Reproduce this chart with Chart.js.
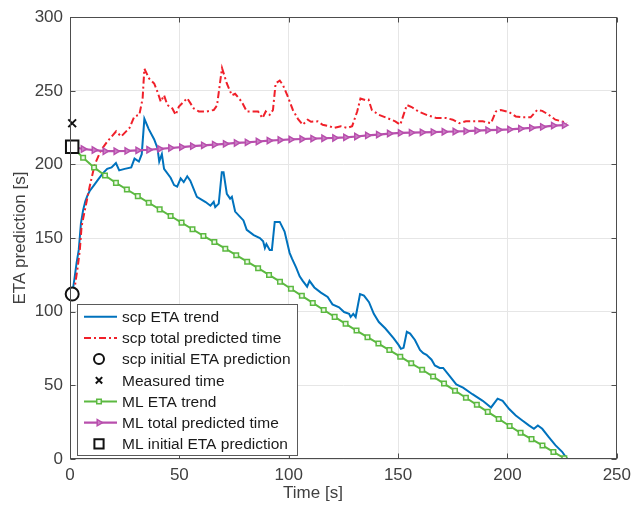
<!DOCTYPE html>
<html>
<head>
<meta charset="utf-8">
<script src="https://cdn.jsdelivr.net/npm/chart.js@4.4.1/dist/chart.umd.min.js"></script>
<style>
  html, body { margin: 0; padding: 0; background: #fff; }
  #wrap { width: 637px; height: 511px; }
</style>
</head>
<body>
<div id="wrap"><canvas id="etaChart" width="637" height="511"></canvas></div>
<script>
// scp ETA trend (blue)
const scpTrendTime = [1,2,3,4,5,6,7,8,9,11,13,15,17,19,21,22.5,25,28,29.5,31.5,32.8,34,36,38.5,40,40.8,42,43,46,47.6,49,50.6,52,53.6,55,58,62,64.2,65.7,66.4,68,69.4,70.2,71.7,73.2,74,75.5,79.3,80.8,84,86.8,88.3,89.1,89.8,91.3,92.3,93.6,95.9,98.1,100.4,101.5,103.4,105,106.4,108.4,109.5,111.7,114.7,117.8,120,123,125.3,127.6,128.3,129.5,130.6,132.6,134.4,136.7,138.9,141.2,144.2,148,150.2,151.3,152.5,154,155.5,157.7,160,161.5,163,165.3,166.8,169,170.6,173.6,176.6,179.7,184,188.7,192.5,195.5,197.8,200.8,203.8,206.8,209.8,212.1,213.9,215.9,218.9,221.9,225,226.8,227.5];
const scpTrendEta = [112,122,133,142,160,169,175,179,182,186,190,194,197,198,201,196,197,198,204,202,207,231,224,217,211,202,207,197,191,186,185,190.5,188,192,189,178,174.5,172,174.6,171,173.4,194.7,194.7,180,176.8,178,168,162,155.6,152,150,147.8,143.3,146,142,142,161,161,154.5,140,136,130,124,121,117,121,116.5,113,110,105,103,99.8,98.6,96.4,98.5,96.4,112,111,106.5,98.6,93,88.6,81.9,77.5,74.8,75.5,86.4,85.2,80.8,74.1,71.9,70.7,67.4,63.5,61.8,61.8,56.2,50.7,48.4,44,39.5,35,41,39.5,33.9,29.5,26.1,22.8,20.5,22.8,20.5,14.9,9.4,4.9,1.1,0];

// scp total predicted time (red)
const scpTotalTime = [1,2.3,3.5,4.5,5.3,6.8,9,11.3,14.3,17.3,21.1,23.4,27.2,29.4,31.7,33.2,34,36.2,38.5,40,41.5,43,44.5,46.8,48.3,49.8,53.6,56.6,58.9,62.6,65.7,67.2,69.5,71.7,74,75.5,78.5,80.8,83,86,88,89.5,91.3,92.8,94,95.9,97.4,99.6,101.9,104.2,106.4,108.7,110.2,113.2,115.5,118.5,120.8,123.8,126.8,129,131.3,132.8,135,136.5,138,141.2,145,148.7,151,154,156.2,159.3,163,167.6,172,175,178,181,185.7,188.7,192.5,194.7,197,200.8,203.8,206.8,210.6,213.6,215.9,218.9,221.9,224.9,227.2];
const scpTotal = [112,118,130,142,158,169,185,200,210,216,222.5,219,224.8,232.6,233.7,244.8,265,258.3,255,249.3,242.6,247,240.4,238,233.7,239.3,245,238,236,236,237,240,265.5,255,247,248,242.6,236,236,236,231.5,236,233.7,237,255,257,253.8,246,237,231,227,230.4,229,229.3,227,226,224.8,226,224.8,226,236,244.8,243.7,244,237,233.7,231.5,229.3,227,240.4,239,236,233.7,231.5,231.5,230.4,228,229.3,229.3,229.3,228,236,237,235.5,232.6,232,232,237,236.4,233.7,230.4,229.3,228];

// ML series (green / magenta)
const mlTime = [1,6,11,16,21,26,31,36,41,46,51,56,61,66,71,76,81,86,91,96,101,106,111,116,121,126,131,136,141,146,151,156,161,166,171,176,181,186,191,196,201,206,211,216,221,226];
const mlEta = [212,204.5,198,192.5,187.5,183,178.5,174,169.5,165,160.5,156,151.5,147.3,142.8,138.4,134,129.6,125,120.4,115.6,110.8,106,101.2,96.5,91.8,87.2,82.7,78.4,74,69.5,65,60.6,56,51.2,46.4,41.6,36.8,32,27.2,22.4,17.8,13.5,9.2,4.8,0.5];
const mlTotal = [212,210.5,209.8,209,209,209.2,209.6,210,210.6,211.2,211.8,212.4,213,213.5,214,214.6,215,215.6,216.2,216.6,217,217.3,217.6,217.8,218,218.4,219,219.7,220.3,221,221.4,221.6,221.8,222,222.2,222.4,222.6,223,223.3,223.5,223.8,224.3,224.8,225.5,226.4,226.7];

// single points
const scpInitial = [1, 112];
const measured = [1, 228];
const mlInitial = [1, 212];

const xTicks = [0, 50, 100, 150, 200, 250];
const yTicks = [0, 50, 100, 150, 200, 250, 300];

const FONT = "'Liberation Sans', Arial, Helvetica, sans-serif";
const pts = (xs, ys) => xs.map((x, i) => ({ x: x, y: ys[i] }));

const BLUE = '#0072bd', RED = '#f0202a', GREEN = '#5cb941', MAGENTA = '#b84fad';

const datasets = [
  { label: 'scp ETA trend', data: pts(scpTrendTime, scpTrendEta), borderColor: BLUE, borderWidth: 2,
    pointRadius: 0, order: 5 },
  { label: 'scp total predicted time', data: pts(scpTotalTime, scpTotal), borderColor: RED, borderWidth: 2,
    borderDash: [7, 3, 2, 3], pointRadius: 0, order: 4 },
  { label: 'scp initial ETA prediction', data: [{ x: scpInitial[0], y: scpInitial[1] }], showLine: false, clip: false,
    pointStyle: 'circle', pointRadius: 6.5, borderColor: '#111', backgroundColor: '#fff', borderWidth: 2, order: 0 },
  { label: 'Measured time', data: [{ x: measured[0], y: measured[1] }], showLine: false, clip: false,
    pointStyle: 'crossRot', pointRadius: 5.5, borderColor: '#111', borderWidth: 2, order: 0 },
  { label: 'ML ETA trend', data: pts(mlTime, mlEta), borderColor: GREEN, borderWidth: 2,
    pointStyle: 'rect', pointRadius: 3.2, pointBorderWidth: 1.5, pointBackgroundColor: '#eef8e8', pointBorderColor: GREEN, order: 2 },
  { label: 'ML total predicted time', data: pts(mlTime, mlTotal), borderColor: MAGENTA, borderWidth: 2.2,
    pointStyle: 'triangle', pointRotation: 90, pointRadius: 3.6, pointBorderWidth: 1.5,
    pointBackgroundColor: 'rgba(205,135,200,0.85)', pointBorderColor: MAGENTA, order: 3 },
  { label: 'ML initial ETA prediction', data: [{ x: mlInitial[0], y: mlInitial[1] }], showLine: false, clip: false,
    pointStyle: 'rect', pointRadius: 8.8, borderColor: '#111', backgroundColor: '#fff', borderWidth: 2, order: 0 }
];

// legend symbol sizes (smaller than the plotted markers, as in the figure)
const legendRadius = [0, 0, 5, 4.5, 3.2, 3.6, 6.5];

// box, inward ticks, axis titles and the legend
const matlabLook = {
  id: 'matlabLook',
  afterDraw(chart) {
    const { ctx, chartArea: a, scales } = chart;
    const L = Math.round(a.left) + 0.5, R = Math.round(a.right) - 0.5;
    const T = Math.round(a.top) + 0.5, B = Math.round(a.bottom) - 0.5;
    ctx.save();
    ctx.strokeStyle = '#4d4d4d';
    ctx.lineWidth = 1;
    ctx.strokeRect(L, T, R - L, B - T);
    ctx.beginPath();
    xTicks.forEach(v => {
      const px = Math.round(scales.x.getPixelForValue(v)) + 0.5;
      ctx.moveTo(px, B); ctx.lineTo(px, B - 5);
      ctx.moveTo(px, T); ctx.lineTo(px, T + 5);
    });
    yTicks.forEach(v => {
      const py = Math.round(scales.y.getPixelForValue(v)) + 0.5;
      ctx.moveTo(L, py); ctx.lineTo(L + 5, py);
      ctx.moveTo(R, py); ctx.lineTo(R - 5, py);
    });
    ctx.stroke();

    // axis titles
    ctx.fillStyle = '#404040';
    ctx.font = '17px ' + FONT;
    ctx.textAlign = 'center';
    ctx.textBaseline = 'middle';
    ctx.fillText('Time [s]', 313, 493);
    ctx.save();
    ctx.translate(20, (a.top + a.bottom) / 2);
    ctx.rotate(-Math.PI / 2);
    ctx.fillText('ETA prediction [s]', 0, 0);
    ctx.restore();

    // legend (southwest)
    const lx = a.left + 7, lw = 220, lh = 151;
    const ly = a.bottom - 4 - lh;
    ctx.fillStyle = '#fff';
    ctx.fillRect(lx, ly, lw, lh);
    ctx.strokeStyle = '#5a5a5a';
    ctx.strokeRect(Math.round(lx) + 0.5, Math.round(ly) + 0.5, lw, lh);
    ctx.font = '15.5px ' + FONT;
    ctx.textAlign = 'left';
    chart.data.datasets.forEach((ds, i) => {
      const cy = ly + 12.7 + i * 21.2;
      const x1 = lx + 7, x2 = lx + 40, cx = lx + 22;
      if (ds.showLine !== false) {
        ctx.save();
        ctx.strokeStyle = ds.borderColor;
        ctx.lineWidth = ds.borderWidth;
        ctx.setLineDash(ds.borderDash || []);
        ctx.beginPath(); ctx.moveTo(x1, cy); ctx.lineTo(x2, cy); ctx.stroke();
        ctx.restore();
      }
      const el = chart.getDatasetMeta(i).data[0];
      if (el && legendRadius[i] > 0) {
        const o = el.options;
        ctx.save();
        ctx.setLineDash([]);
        ctx.strokeStyle = o.borderColor;
        ctx.fillStyle = o.backgroundColor;
        ctx.lineWidth = o.borderWidth;
        Chart.helpers.drawPoint(ctx, {
          pointStyle: o.pointStyle, rotation: o.rotation, radius: legendRadius[i], borderWidth: o.borderWidth
        }, cx, cy);
        ctx.restore();
      }
      ctx.fillStyle = '#1a1a1a';
      ctx.fillText(ds.label, lx + 45, cy + 1);
    });
    ctx.restore();
  }
};

new Chart(document.getElementById('etaChart'), {
  type: 'line',
  data: { datasets: datasets },
  options: {
    responsive: false,
    animation: false,
    devicePixelRatio: 1,
    layout: { padding: { top: 11, right: 15, left: 0, bottom: 0 } },
    plugins: { legend: { display: false }, tooltip: { enabled: false } },
    elements: { line: { tension: 0, fill: false } },
    scales: {
      x: {
        type: 'linear', min: 0, max: 250,
        afterBuildTicks: s => { s.ticks = xTicks.map(v => ({ value: v })); },
        afterFit: s => { s.height = 52; },
        grid: { color: '#e6e6e6', drawTicks: false },
        border: { display: false },
        ticks: { padding: 6, color: '#404040', font: { family: FONT, size: 17 }, maxRotation: 0 }
      },
      y: {
        type: 'linear', min: 0, max: 300,
        afterBuildTicks: s => { s.ticks = yTicks.map(v => ({ value: v })); },
        afterFit: s => { s.width = 70; },
        grid: { color: '#e6e6e6', drawTicks: false },
        border: { display: false },
        ticks: { padding: 7, color: '#404040', font: { family: FONT, size: 17 } }
      }
    }
  },
  plugins: [matlabLook]
});
</script>
</body>
</html>
